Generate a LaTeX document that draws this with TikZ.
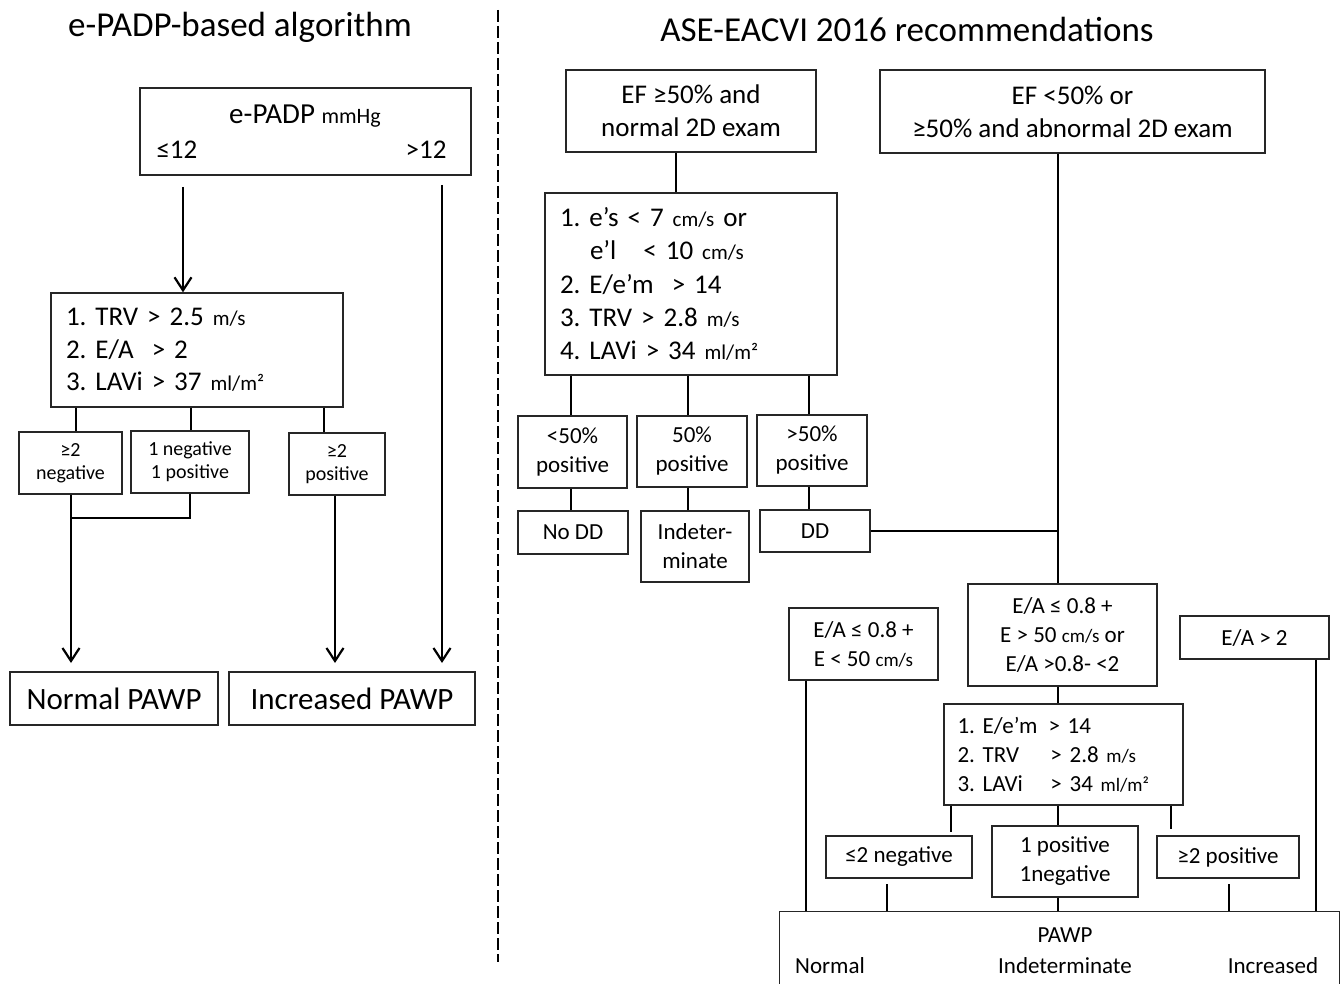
\documentclass[tikz,border=0pt]{standalone}
\usepackage{fontspec}
\setmainfont{Carlito}
\usetikzlibrary{arrows.meta,calc}
\newcommand\fsz[2]{\fontsize{#1}{#2}\selectfont}
\newcommand\unA{\fsz{21}{24}}
\newcommand\unB{\fsz{19}{22}}
\frenchspacing
\begin{document}
\frenchspacing
\begin{tikzpicture}[x=1pt,y=-1pt,
  box/.style={draw=black!85, line width=1.4pt, inner sep=0pt, align=center, font=\fsz{23}{29}},
  con/.style={line width=2.2pt, black},
  arr/.style={con, -{Straight Barb[length=13pt,width=17pt]}},
  title/.style={font=\fsz{35}{40}}]
\useasboundingbox (0,0) rectangle (1341,984);
\fill[white] (0,0) rectangle (1341,984);

% ---------------- left half ----------------
\node[title] (t1) at (240,27) {e-PADP-based algorithm};
\node[box, minimum width=331pt, minimum height=87pt] (epadp) at (305.5,131.5) {};
\node[font=\fsz{29}{34}] (eptext) at (305,116) {e-PADP {\fsz{22}{26}mmHg}};
\node[font=\fsz{27}{33}, anchor=west] (le12) at (153,150) {≤12};
\node[font=\fsz{27}{33}, anchor=east] (gt12) at (450,150) {>12};
\node[box, minimum width=292pt, minimum height=114pt, text width=262pt, align=left, font=\fsz{27}{32.5}] (trv) at (197,350)
  {1. TRV > 2.5 {\unA m/s}\\2. E/A\ \ > 2\\3. LAVi > 37 {\unA ml/m²}};
\node[box, font=\fsz{20}{23}, minimum width=103pt, minimum height=62pt] (neg) at (70.5,463) {≥2\\negative};
\node[box, font=\fsz{20}{23}, minimum width=118pt, minimum height=62pt] (negpos) at (190,462) {1 negative\\1 positive};
\node[box, font=\fsz{20}{23}, minimum width=96pt, minimum height=62pt] (pos) at (337,464) {≥2\\positive};
\node[box, font=\fsz{31}{36}, minimum width=208pt, minimum height=53pt] (normal) at (114,698.5) {Normal PAWP};
\node[box, font=\fsz{31}{36}, minimum width=246pt, minimum height=53pt] (incr) at (352,698.5) {Increased PAWP};

\coordinate (s1) at (183,187);
\draw[arr] (s1) -- (s1 |- trv.north);
\coordinate (s2) at (442,185);
\coordinate (e2) at (442,663);
\draw[arr] (s2) -- (e2);
\draw[con] (76,0 |- trv.south) -- (76,0 |- neg.north);
\draw[con] (191,0 |- trv.south) -- (191,0 |- negpos.north);
\draw[con] (324,0 |- trv.south) -- (324,0 |- pos.north);
\coordinate (e3) at (71,663);
\draw[arr] (71,0 |- neg.south) -- (e3);
\draw[con] (190,0 |- negpos.south) -- (190,518) -- (71,518);
\coordinate (e4) at (335,663);
\draw[arr] (335,0 |- pos.south) -- (e4);

% divider
\draw[line width=2pt, dash pattern=on 12pt off 4pt] (498,10) -- (498,962);

% ---------------- right half ----------------
\node[title] (t2) at (907,29) {ASE-EACVI 2016 recommendations};
\node[box, font=\fsz{27}{33}, minimum width=250pt, minimum height=82pt] (ef1) at (691,111) {EF ≥50\% and\\normal 2D exam};
\node[box, font=\fsz{27}{33}, minimum width=385pt, minimum height=83pt] (ef2) at (1072.5,111.5) {EF <50\% or\\≥50\% and abnormal 2D exam};
\node[box, minimum width=292pt, minimum height=182pt, text width=262pt, align=left, font=\fsz{27}{33.2}] (crit1) at (691,284)
  {1. e’s < 7 {\unA cm/s} or\\\hspace*{30pt}e’l\hspace{18pt} < 10 {\unA cm/s}\\2. E/e’m\ \ > 14\\3. TRV > 2.8 {\unA m/s}\\4. LAVi > 34 {\unA ml/m²}};
\node[box, minimum width=109pt, minimum height=72pt] (b1) at (572.5,452) {<50\%\\positive};
\node[box, minimum width=110pt, minimum height=71pt] (b2) at (692,451.5) {50\%\\positive};
\node[box, minimum width=110pt, minimum height=71pt] (b3) at (812,450.5) {>50\%\\positive};
\node[box, minimum width=110pt, minimum height=43pt] (nodd) at (573,532.5) {No DD};
\node[box, minimum width=108pt, minimum height=71pt] (indet) at (695,546.5) {Indeter-\\minate};
\node[box, minimum width=110pt, minimum height=42pt] (dd) at (815,531) {DD};

\node[box, minimum width=149pt, minimum height=72pt] (ea1) at (863.5,644) {E/A ≤ 0.8 +\\E < 50 {\unB cm/s}};
\node[box, minimum width=189pt, minimum height=102pt] (ea2) at (1062.5,635) {E/A ≤ 0.8 +\\E > 50 {\unB cm/s} or\\E/A >0.8- <2};
\node[box, minimum width=149pt, minimum height=43pt] (ea3) at (1254.5,637.5) {E/A > 2};
\node[box, minimum width=239pt, minimum height=101pt, text width=212pt, align=left] (crit2) at (1063.5,754.5)
  {\makebox[91pt][l]{1. E/e’m}> 14\\\makebox[93pt][l]{2. TRV}> 2.8 {\unB m/s}\\\makebox[93pt][l]{3. LAVi}> 34 {\unB ml/m²}};
\node[box, minimum width=146pt, minimum height=42pt] (neg2) at (899,857) {≤2 negative};
\node[box, minimum width=146pt, minimum height=71pt] (onepos) at (1065,861.5) {1 positive\\1negative};
\node[box, minimum width=142pt, minimum height=42pt] (pos2) at (1228,857) {≥2 positive};
\node[box, minimum width=560pt, minimum height=90pt, anchor=north west] (pawp) at (779,911) {};
\node[font=\fsz{23}{28}] (pawpt) at (1065,935) {PAWP};
\node[font=\fsz{23}{28}] (pn) at (830,966) {Normal};
\node[font=\fsz{23}{28}] (pi) at (1065,966) {Indeterminate};
\node[font=\fsz{23}{28}] (pinc) at (1273,966) {Increased};

\draw[con] (676,0 |- ef1.south) -- (676,0 |- crit1.north);
\draw[con] (571,0 |- crit1.south) -- (571,0 |- b1.north);
\draw[con] (688,0 |- crit1.south) -- (688,0 |- b2.north);
\draw[con] (809,0 |- crit1.south) -- (809,0 |- b3.north);
\draw[con] (571,0 |- b1.south) -- (571,0 |- nodd.north);
\draw[con] (688,0 |- b2.south) -- (688,0 |- indet.north);
\draw[con] (809,0 |- b3.south) -- (809,0 |- dd.north);
\draw[con] (dd.east) -- (1058,0 |- dd.east);
\draw[con] (1058,0 |- ef2.south) -- (1058,0 |- ea2.north);
\draw[con] (1058,0 |- ea2.south) -- (1058,0 |- crit2.north);
\draw[con] (806,0 |- ea1.south) -- (806,0 |- pawp.north);
\draw[con] (1316,0 |- ea3.south) -- (1316,0 |- pawp.north);
\coordinate (c1) at (951,832);
\coordinate (c2) at (1171,829);
\draw[con] (951,0 |- crit2.south) -- (c1);
\draw[con] (1058,0 |- crit2.south) -- (1058,0 |- onepos.north);
\draw[con] (1171,0 |- crit2.south) -- (c2);
\coordinate (c3) at (887,884);
\coordinate (c4) at (1229,884);
\draw[con] (c3) -- (c3 |- pawp.north);
\draw[con] (1058,0 |- onepos.south) -- (1058,0 |- pawp.north);
\draw[con] (c4) -- (c4 |- pawp.north);
\end{tikzpicture}
\end{document}
